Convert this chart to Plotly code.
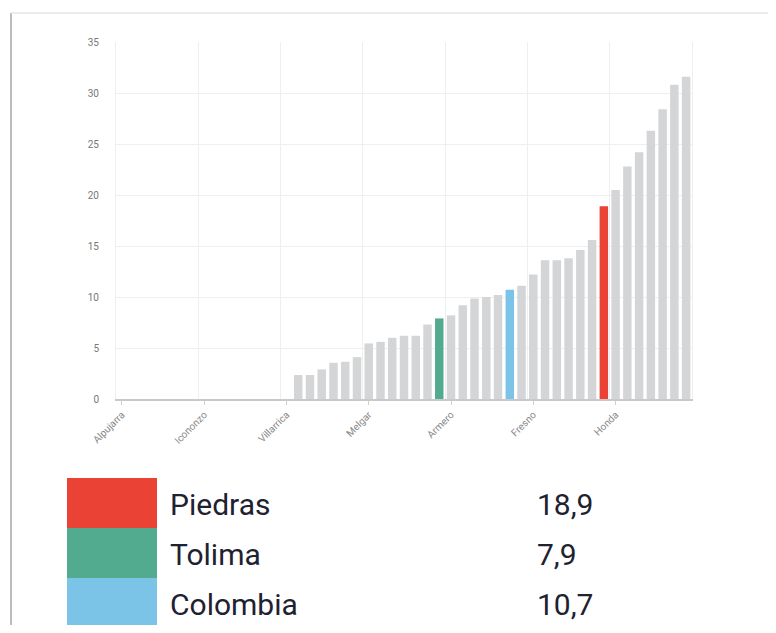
import plotly.graph_objects as go

# reference canvas and page offset (browser body margin)
REF_W, REF_H = 776, 633
OFF = 8
W, H = REF_W - 2 * OFF, REF_H - 2 * OFF


def px(x):
    return (x - OFF) / W


def py(y):
    return 1 - (y - OFF) / H


categories = [
    "Alpujarra", "Alvarado", "Ambalema", "Anzoátegui", "Ataco", "Cajamarca", "Casabianca",
    "Icononzo", "Murillo", "Palocabildo", "Roncesvalles", "San Antonio", "Santa Isabel", "Villahermosa",
    "Villarrica", "Dolores", "Herveo", "Planadas", "Rioblanco", "Coyaima", "Natagaima",
    "Melgar", "Cunday", "Valle de San Juan", "Suárez", "Prado", "Rovira", "Tolima",
    "Armero", "Coello", "Ortega", "San Luis", "Saldaña", "Colombia", "Purificación",
    "Fresno", "Guamo", "Venadillo", "Carmen de Apicalá", "Falan", "Chaparral", "Piedras",
    "Honda", "Lérida", "Líbano", "Mariquita", "Flandes", "Espinal", "Ibagué",
]
values = [
    0, 0, 0, 0, 0, 0, 0,
    0, 0, 0, 0, 0, 0, 0,
    0, 2.35, 2.35, 2.9, 3.55, 3.65, 4.1,
    5.45, 5.6, 6.0, 6.2, 6.2, 7.3, 7.9,
    8.2, 9.2, 9.85, 10.0, 10.2, 10.7, 11.1,
    12.2, 13.6, 13.6, 13.8, 14.6, 15.6, 18.9,
    20.5, 22.8, 24.2, 26.3, 28.4, 30.8, 31.6,
]
highlight = {"Piedras": "#ea4335", "Tolima": "#52ab8f", "Colombia": "#7cc3e8"}
base_color = "#d4d5d7"

tick_labels = ["Alpujarra", "Icononzo", "Villarrica", "Melgar", "Armero", "Fresno", "Honda"]
y_ticks = [0, 5, 10, 15, 20, 25, 30, 35]

legend_names = ["Piedras", "Tolima", "Colombia"]
legend_values = ["18,9", "7,9", "10,7"]

colors = [highlight.get(c, base_color) for c in categories]
idx = list(range(len(categories)))
pos = {c: i for i, c in enumerate(categories)}

fig = go.Figure()
fig.add_trace(go.Bar(x=idx, y=values, marker=dict(color=colors, line=dict(width=0)),
                     width=0.72, showlegend=False, xaxis="x", yaxis="y"))

# invisible trace to activate the boundary grid axis
fig.add_trace(go.Scatter(x=[idx[0]], y=[0], mode="markers", marker=dict(opacity=0),
                         showlegend=False, hoverinfo="skip", xaxis="x2", yaxis="y"))

empty_header = dict(values=[""], height=1, fill_color="rgba(0,0,0,0)",
                    line=dict(width=0), font=dict(size=1))

# colour swatches of the key
fig.add_trace(go.Table(
    domain=dict(x=[px(67), px(157)], y=[0, py(477)]),
    header=empty_header,
    cells=dict(
        values=[[""] * len(legend_names)],
        fill_color=[[highlight[n] for n in legend_names]],
        line=dict(width=0),
        height=50,
    ),
))

# names and values of the key
fig.add_trace(go.Table(
    domain=dict(x=[px(162), px(700)], y=[0, py(483)]),
    columnwidth=[367, 171],
    header=dict(values=["", ""], height=1, fill_color="rgba(0,0,0,0)",
                line=dict(width=0), font=dict(size=1)),
    cells=dict(
        values=[legend_names, legend_values],
        fill_color="rgba(0,0,0,0)",
        line=dict(width=0),
        height=50,
        align="left",
        font=dict(family="Roboto", size=30, color="#1e2230"),
    ),
))

n = len(categories)
fig.update_layout(
    width=W, height=H,
    margin=dict(l=0, r=0, t=0, b=0),
    paper_bgcolor="white", plot_bgcolor="white",
    font=dict(family="Roboto", color="#777"),
    bargap=0.28,
    xaxis=dict(
        domain=[px(116), px(692)], range=[-0.5, n - 0.5],
        tickmode="array", tickvals=[pos[t] for t in tick_labels], ticktext=tick_labels,
        tickangle=-45, tickfont=dict(size=10, color="#888"),
        showgrid=False, zeroline=False,
        ticks="outside", ticklen=4, tickcolor="#cfcfcf",
        showline=True, linecolor="#c9c9c9", linewidth=2,
        automargin=False,
    ),
    xaxis2=dict(
        domain=[px(116), px(692)], range=[-0.5, n - 0.5], overlaying="x",
        tickmode="linear", tick0=-0.5, dtick=7,
        showticklabels=False, showgrid=True, gridcolor="#efefef", gridwidth=1,
        zeroline=False, showline=False,
    ),
    yaxis=dict(
        domain=[py(399), py(42)], range=[0, 35],
        tickmode="array", tickvals=y_ticks,
        tickfont=dict(size=10, color="#777"),
        showgrid=True, gridcolor="#efefef", gridwidth=1,
        zeroline=False, showline=True, mirror=True, linecolor="#efefef", linewidth=1,
        ticks="", ticklabelstandoff=14,
        automargin=False,
    ),
    shapes=[
        dict(type="line", xref="paper", yref="paper", x0=px(11), x1=px(11), y0=0, y1=py(13),
             line=dict(color="#bdbdbd", width=2)),
        dict(type="line", xref="paper", yref="paper", x0=px(11), x1=1, y0=py(13), y1=py(13),
             line=dict(color="#e6e6e6", width=1.5)),
    ],
)

fig.write_html("out.html")
